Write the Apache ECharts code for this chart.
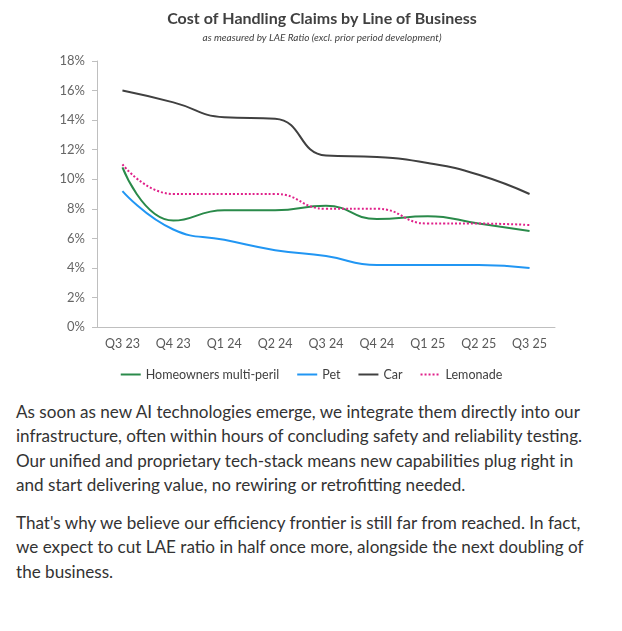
<!DOCTYPE html>
<html>
<head>
<meta charset="utf-8">
<script src="https://cdn.jsdelivr.net/npm/echarts@6/dist/echarts.min.js"></script>
<style>
  body { margin: 0; background: #fff; font-family: Lato, "Open Sans", sans-serif; }
  #main { width: 622px; height: 400px; }
  .txt { margin: 0; padding: 0 0 0 16px; color: #333; font-size: 17.1px; line-height: 24.3px; white-space: nowrap; }
  .gap { height: 14px; }
</style>
</head>
<body>
<div id="main"></div>
<p class="txt">As soon as new AI technologies emerge, we integrate them directly into our<br>infrastructure, often within hours of concluding safety and reliability testing.<br>Our unified and proprietary tech-stack means new capabilities plug right in<br>and start delivering value, no rewiring or retrofitting needed.</p>
<div class="gap"></div>
<p class="txt">That's why we believe our efficiency frontier is still far from reached. In fact,<br>we expect to cut LAE ratio in half once more, alongside the next doubling of<br>the business.</p>
<script>
var quarters = ['Q3 23', 'Q4 23', 'Q1 24', 'Q2 24', 'Q3 24', 'Q4 24', 'Q1 25', 'Q2 25', 'Q3 25'];
var homeowners = [10.8, 7.2, 7.9, 7.9, 8.2, 7.3, 7.5, 7.0, 6.5];
var pet = [9.2, 6.6, 5.9, 5.2, 4.8, 4.2, 4.2, 4.2, 4.0];
var car = [16.0, 15.2, 14.2, 14.1, 11.6, 11.5, 11.1, 10.3, 9.0];
var lemonade = [11.0, 9.0, 9.0, 9.0, 8.0, 8.0, 7.0, 7.0, 6.9];

var myChart = echarts.init(document.getElementById('main'));

function line(name, data, color, type) {
    return {
        name: name,
        type: 'line',
        data: data,
        smooth: 0.5,
        symbol: 'none',
        lineStyle: { color: color, width: 2, type: type || 'solid' },
        itemStyle: { color: color }
    };
}

var option = {
    animation: false,
    title: {
        text: 'Cost of Handling Claims by Line of Business',
        subtext: 'as measured by LAE Ratio (excl. prior period development)',
        left: 317,
        textAlign: 'center',
        top: 6,
        itemGap: 6,
        textStyle: { fontFamily: 'Lato', fontSize: 16, fontWeight: 'bold', color: '#404040' },
        subtextStyle: { fontFamily: 'Lato', fontSize: 10, fontStyle: 'italic', color: '#404040' }
    },
    legend: {
        top: 363,
        left: 'center',
        itemWidth: 20,
        itemHeight: 10,
        itemGap: 17,
        itemStyle: { opacity: 0 },
        textStyle: { fontFamily: 'Lato', fontSize: 12.5, color: '#404040' },
        data: ['Homeowners multi-peril', 'Pet', 'Car', 'Lemonade']
    },
    grid: { left: 97, right: 67, top: 61, bottom: 73 },
    xAxis: {
        type: 'category',
        data: quarters,
        boundaryGap: true,
        axisLine: { lineStyle: { color: '#bfbfbf' } },
        axisTick: { show: false },
        axisLabel: { fontFamily: 'Lato', fontSize: 12.5, color: '#595959', margin: 10 }
    },
    yAxis: {
        type: 'value',
        min: 0,
        max: 18,
        interval: 2,
        axisLine: { show: true, lineStyle: { color: '#bfbfbf' } },
        axisTick: { show: true, length: 5, lineStyle: { color: '#bfbfbf' } },
        splitLine: { show: false },
        axisLabel: { fontFamily: 'Lato', fontSize: 13, color: '#666666', margin: 12, formatter: '{value}%' }
    },
    series: [
        line('Homeowners multi-peril', homeowners, '#2a8a4a'),
        line('Pet', pet, '#2196f3'),
        line('Car', car, '#404040'),
        line('Lemonade', lemonade, '#e0218a', 'dotted')
    ]
};
myChart.setOption(option);
</script>
</body>
</html>
